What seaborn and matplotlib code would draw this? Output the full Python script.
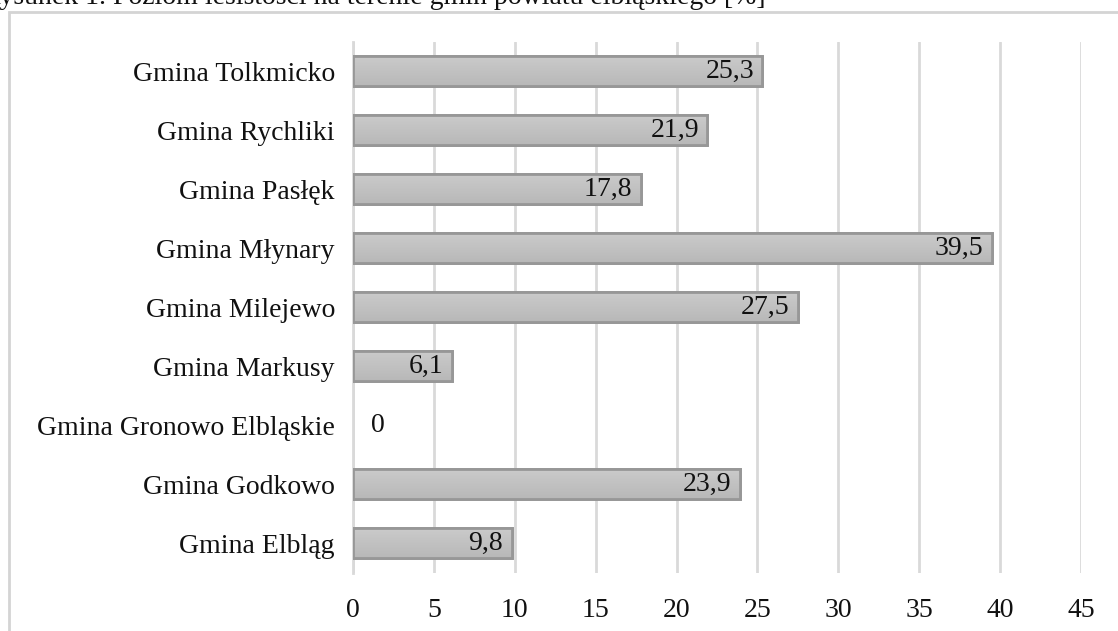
import matplotlib

matplotlib.use("Agg")
import matplotlib.pyplot as plt
import numpy as np
import pandas as pd
import seaborn as sns
from matplotlib.colors import LinearSegmentedColormap
from matplotlib.patches import Rectangle

gminy = [
    "Gmina Tolkmicko",
    "Gmina Rychliki",
    "Gmina Pasłęk",
    "Gmina Młynary",
    "Gmina Milejewo",
    "Gmina Markusy",
    "Gmina Gronowo Elbląskie",
    "Gmina Godkowo",
    "Gmina Elbląg",
]
lesistosc = [25.3, 21.9, 17.8, 39.5, 27.5, 6.1, 0.0, 23.9, 9.8]
x_ticks = [0, 5, 10, 15, 20, 25, 30, 35, 40, 45]
title = "Rysunek 1. Poziom lesistości na terenie gmin powiatu elbląskiego [%]"

df = pd.DataFrame({"gmina": gminy, "value": lesistosc})

sns.set_theme(style="white")
plt.rcParams["font.family"] = ["Liberation Serif", "DejaVu Serif"]

fig = plt.figure(figsize=(11.18, 6.31), dpi=100)
ax = fig.add_axes([0.3157, 0.0927, 0.6512, 0.8415])

sns.barplot(
    data=df,
    x="value",
    y="gmina",
    orient="h",
    color="#c2c2c2",
    saturation=1,
    edgecolor="#979797",
    linewidth=2,
    width=0.52,
    ax=ax,
    zorder=3,
)

# soft vertical gradient inside each bar, like the office chart style
grad = LinearSegmentedColormap.from_list("bar", ["#cbcbcb", "#b8b8b8"])
for patch in ax.patches:
    if patch.get_width() <= 0:
        patch.set_linewidth(0)
        continue
    x0, y0 = patch.get_x(), patch.get_y()
    w, h = patch.get_width(), patch.get_height()
    img = ax.imshow(np.linspace(0, 1, 50).reshape(-1, 1), cmap=grad, aspect="auto",
                    extent=(x0, x0 + w, y0 + h, y0), origin="upper", zorder=3.5)
    img.set_clip_path(patch)
    edge = Rectangle((x0, y0), w, h, fill=False, edgecolor="#979797",
                     linewidth=2, zorder=3.6)
    ax.add_patch(edge)

# value labels at the inner end of each bar
for i, v in enumerate(df["value"]):
    text = f"{v:.1f}".replace(".", ",") if v > 0 else "0"
    if v > 0:
        ax.annotate(text, (v, i), xytext=(-6, 0), textcoords="offset points",
                    ha="right", va="center", fontsize=20, color="#111111", zorder=4)
    else:
        ax.annotate(text, (v, i), xytext=(13, 0), textcoords="offset points",
                    ha="left", va="center", fontsize=20, color="#111111", zorder=4)

ax.set_xlim(0, 45)
ax.set_ylim(len(gminy) - 0.5, -0.5)
ax.set_xticks(x_ticks)
ax.set_xticklabels([str(t) for t in x_ticks], fontsize=20, color="#111111")
ax.tick_params(axis="y", labelsize=20, colors="#111111", pad=13, length=0)
ax.tick_params(axis="x", pad=18, length=0)
ax.set_xlabel("")
ax.set_ylabel("")
ax.grid(axis="x", color="#d9d9d9", linewidth=2, zorder=0)
for side in ["top", "right", "bottom"]:
    ax.spines[side].set_visible(False)
ax.spines["left"].set_color("#d9d9d9")
ax.spines["left"].set_linewidth(2)

# outer chart frame (cut off at the bottom and right)
fig.add_artist(Rectangle((9 / 1118, -0.2), 1.2, 1.2 - 12 / 631, fill=False,
                         edgecolor="#d4d4d4", linewidth=2, transform=fig.transFigure))

# caption partly cropped at the top edge, as in the source scan
fig.text(-18 / 1118, 1 - 4 / 631, title, fontsize=20, color="#111111",
         ha="left", va="baseline")

fig.savefig("out.png", dpi=100, facecolor="white")
plt.close(fig)
